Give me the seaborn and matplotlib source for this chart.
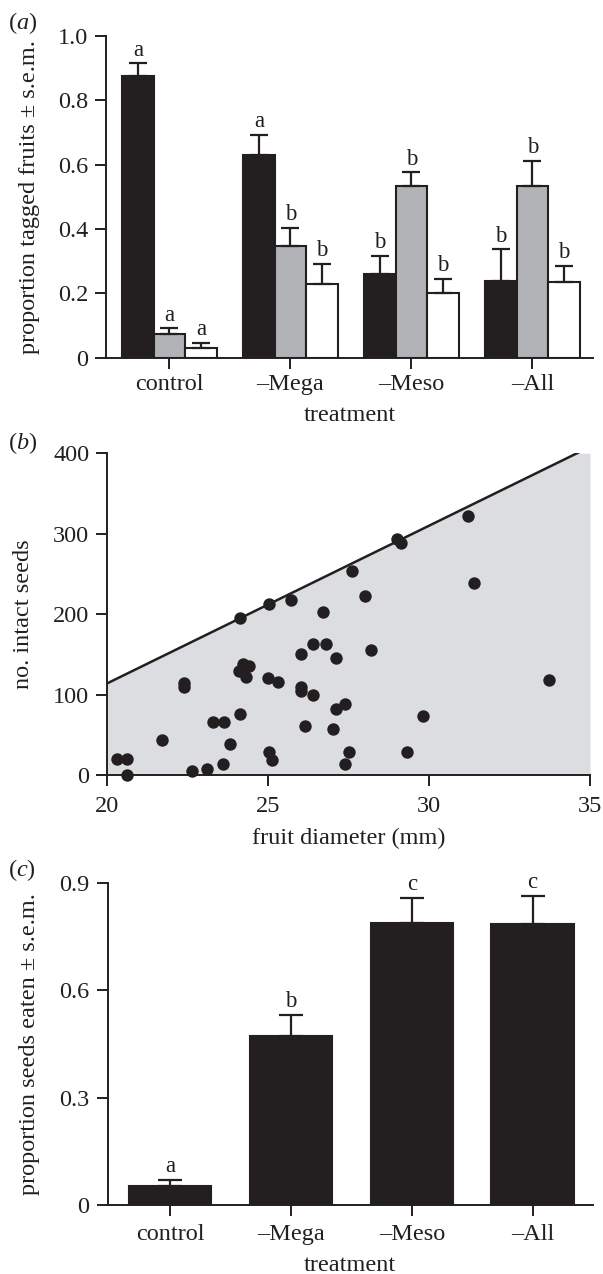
import numpy as np
import pandas as pd
import matplotlib
matplotlib.use("Agg")
import matplotlib.pyplot as plt
import seaborn as sns

# --- data ---
treatments = ["control", "\u2013Mega", "\u2013Meso", "\u2013All"]
fates = ["removed", "eaten", "intact"]
fate_colors = ["#231f20", "#b1b3b6", "#ffffff"]

prop_removed = [0.876, 0.631, 0.260, 0.237]
sem_removed = [0.039, 0.062, 0.057, 0.100]
prop_eaten = [0.075, 0.348, 0.534, 0.534]
sem_eaten = [0.016, 0.056, 0.042, 0.077]
prop_intact = [0.030, 0.229, 0.200, 0.235]
sem_intact = [0.016, 0.063, 0.044, 0.051]
letters_removed = ["a", "a", "b", "b"]
letters_eaten = ["a", "b", "b", "b"]
letters_intact = ["a", "b", "b", "b"]

fruit_diam = [20.29, 20.62, 20.62, 21.71, 22.39, 22.39, 22.62, 23.11, 23.28, 23.62,
              23.60, 23.81, 24.12, 24.12, 24.10, 24.23, 24.30, 24.41, 25.01, 25.00,
              25.30, 25.01, 25.12, 25.70, 26.01, 26.01, 26.01, 26.13, 26.40, 26.40,
              26.71, 26.80, 27.10, 27.10, 27.40, 27.02, 27.50, 27.40, 27.60, 28.00,
              28.20, 28.99, 29.12, 29.31, 29.80, 31.20, 31.40, 33.72]
intact_seeds = [20, 20, 0, 44, 114, 110, 5, 7, 66, 66,
                14, 39, 76, 195, 129, 138, 122, 136, 212, 121,
                115, 29, 18, 217, 151, 109, 104, 61, 100, 163,
                203, 163, 146, 82, 88, 57, 29, 14, 254, 222,
                155, 293, 288, 29, 73, 322, 239, 118]
bound_intercept = 114   # seeds at 20 mm
bound_slope = 19.6      # seeds per mm

prop_seeds_eaten = [0.054, 0.472, 0.787, 0.784]
sem_seeds_eaten = [0.016, 0.059, 0.070, 0.079]
letters_seeds = ["a", "b", "c", "c"]

# --- style ---
sns.set_style("ticks")
plt.rcParams["font.family"] = ["Liberation Serif", "DejaVu Serif"]
plt.rcParams["mathtext.fontset"] = "custom"
plt.rcParams["mathtext.rm"] = "Liberation Serif"
plt.rcParams["mathtext.it"] = "Liberation Serif:italic"
ink = "#231f20"
fs = 17.5

fig = plt.figure(figsize=(6.03, 12.74), dpi=100)
ax_a = fig.add_axes([0.1766, 0.7192, 0.8068, 0.2525])
ax_b = fig.add_axes([0.1780, 0.3917, 0.8005, 0.2525])
ax_c = fig.add_axes([0.1783, 0.0542, 0.8050, 0.2530])


def style_axis(ax, xpad=4):
    for side in ["top", "right"]:
        ax.spines[side].set_visible(False)
    for side in ["left", "bottom"]:
        ax.spines[side].set_linewidth(1.4)
        ax.spines[side].set_color(ink)
    ax.tick_params(axis="both", direction="out", length=8, width=1.4, color=ink,
                   labelsize=fs, labelcolor=ink)
    ax.tick_params(axis="y", pad=5)
    ax.tick_params(axis="x", pad=xpad)


def fmt(v):
    return "0" if v == 0 else f"{v:.1f}"


# --- (a) ---
df_a = pd.DataFrame({
    "treatment": treatments * 3,
    "fate": np.repeat(fates, len(treatments)),
    "prop": prop_removed + prop_eaten + prop_intact,
})
sns.barplot(data=df_a, x="treatment", y="prop", hue="fate", hue_order=fates,
            palette=fate_colors, saturation=1, width=0.78, gap=0,
            edgecolor=ink, linewidth=1.5, errorbar=None, legend=False, ax=ax_a)
sems = [sem_removed, sem_eaten, sem_intact]
letters = [letters_removed, letters_eaten, letters_intact]
for cont, sem, lab in zip(ax_a.containers, sems, letters):
    for bar, s, l in zip(cont, sem, lab):
        xc = bar.get_x() + bar.get_width() / 2
        h = bar.get_height()
        ax_a.errorbar(xc, h, yerr=[[0], [s]], fmt="none", ecolor=ink,
                      elinewidth=1.6, capsize=6.5, capthick=1.6, zorder=1)
        ax_a.annotate(l, (xc, h + s), xytext=(0, 2), textcoords="offset points",
                      ha="center", va="bottom", fontsize=fs - 1, color=ink)
ax_a.set_ylim(0, 1.0)
ax_a.set_xlim(-0.52, 3.5)
yt_a = [0, 0.2, 0.4, 0.6, 0.8, 1.0]
ax_a.set_yticks(yt_a)
ax_a.set_yticklabels([fmt(v) for v in yt_a])
ax_a.set_ylabel("proportion tagged fruits \u00b1 s.e.m.", fontsize=fs, color=ink)
ax_a.set_xlabel("treatment", fontsize=fs, color=ink, va="top")
ax_a.yaxis.set_label_coords(-0.137, 0.5)
ax_a.xaxis.set_label_coords(0.5, -0.147)
style_axis(ax_a)

# --- (b) ---
xs = np.linspace(20, 35, 301)
bound = bound_intercept + bound_slope * (xs - 20)
ax_b.fill_between(xs, 0, np.minimum(bound, 400), color="#dcdde0", lw=0, zorder=0)
ax_b.plot(xs, bound, color=ink, lw=1.8, zorder=1)
sns.scatterplot(x=fruit_diam, y=intact_seeds, color=ink, s=80, linewidth=0,
                clip_on=False, zorder=3, ax=ax_b)
ax_b.set_xlim(20, 35)
ax_b.set_ylim(0, 400)
ax_b.set_xticks([20, 25, 30, 35])
ax_b.set_yticks([0, 100, 200, 300, 400])
ax_b.set_ylabel("no. intact seeds", fontsize=fs, color=ink)
ax_b.set_xlabel("fruit diameter (mm)", fontsize=fs, color=ink, va="top")
ax_b.yaxis.set_label_coords(-0.152, 0.5)
ax_b.xaxis.set_label_coords(0.5, -0.165)
style_axis(ax_b, xpad=7)

# --- (c) ---
sns.barplot(x=treatments, y=prop_seeds_eaten, color=ink, saturation=1, width=0.68,
            edgecolor=ink, linewidth=1.5, errorbar=None, ax=ax_c)
for bar, s, l in zip(ax_c.containers[0], sem_seeds_eaten, letters_seeds):
    xc = bar.get_x() + bar.get_width() / 2
    h = bar.get_height()
    ax_c.errorbar(xc, h, yerr=[[0], [s]], fmt="none", ecolor=ink,
                  elinewidth=1.6, capsize=8.5, capthick=1.6, zorder=1)
    ax_c.annotate(l, (xc, h + s), xytext=(0, 2), textcoords="offset points",
                  ha="center", va="bottom", fontsize=fs - 1, color=ink)
ax_c.set_ylim(0, 0.9)
ax_c.set_xlim(-0.52, 3.5)
yt_c = [0, 0.3, 0.6, 0.9]
ax_c.set_yticks(yt_c)
ax_c.set_yticklabels([fmt(v) for v in yt_c])
ax_c.set_ylabel("proportion seeds eaten \u00b1 s.e.m.", fontsize=fs, color=ink)
ax_c.set_xlabel("treatment", fontsize=fs, color=ink, va="top")
ax_c.yaxis.set_label_coords(-0.139, 0.5)
ax_c.xaxis.set_label_coords(0.5, -0.155)
style_axis(ax_c, xpad=6)

# panel letters
for lab, ypix in [("a", 23), ("b", 443), ("c", 870)]:
    fig.text(8 / 603, 1 - ypix / 1274, f"($\\it{{{lab}}}$)", fontsize=fs,
             color=ink, ha="left", va="center")

fig.savefig("out.png", dpi=100)
